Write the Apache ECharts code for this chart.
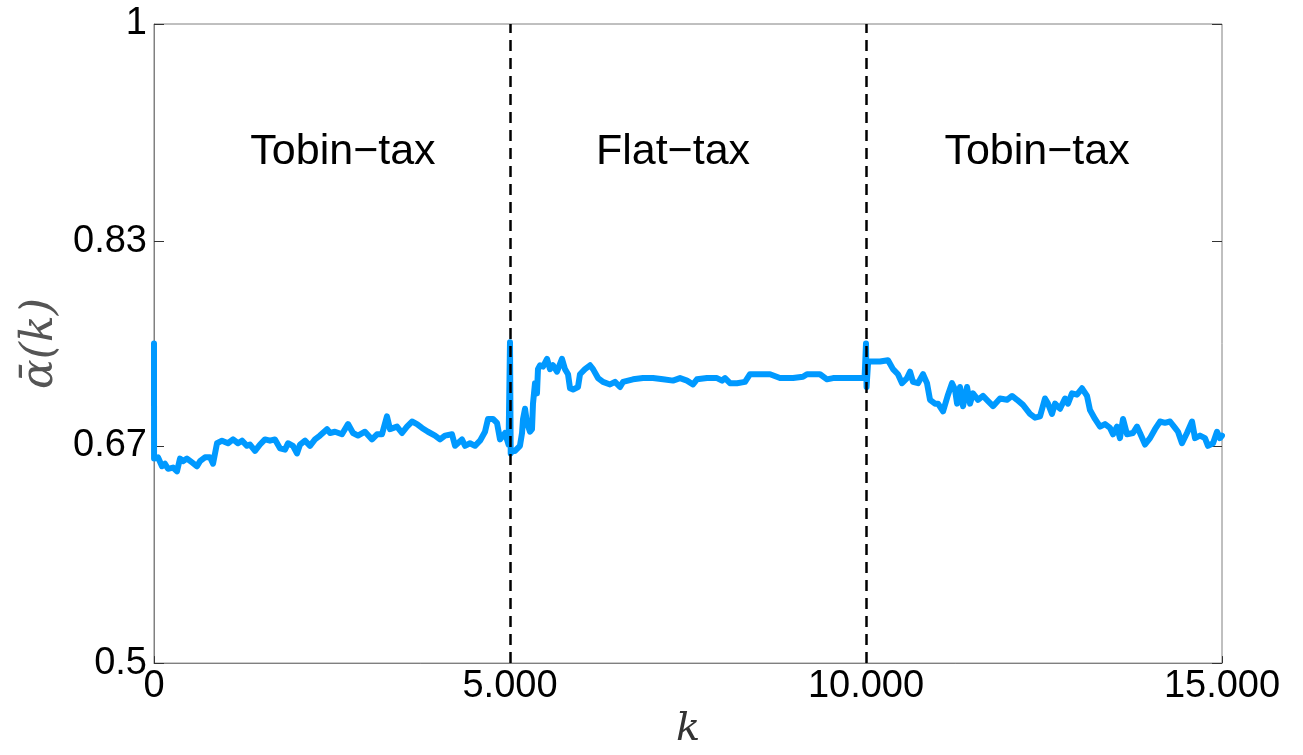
<!DOCTYPE html>
<html>
<head>
<meta charset="utf-8">
<script src="https://cdn.jsdelivr.net/npm/echarts@6/dist/echarts.min.js"></script>
<style>html,body{margin:0;padding:0;background:#fff;}#c{width:1303px;height:755px;}</style>
</head>
<body>
<div id="c"></div>
<script>
// ---- data ----
const kValues = [0, 1, 56, 112, 154, 197, 267, 323, 365, 407, 463, 534, 604, 646, 716, 787, 829, 885, 955, 1039, 1110, 1180, 1236, 1306, 1348, 1419, 1489, 1559, 1629, 1699, 1770, 1840, 1882, 1952, 2008, 2051, 2121, 2191, 2261, 2331, 2430, 2472, 2542, 2640, 2725, 2795, 2865, 2963, 3062, 3132, 3202, 3272, 3315, 3413, 3483, 3553, 3624, 3694, 3764, 3848, 3947, 4017, 4087, 4185, 4228, 4326, 4368, 4438, 4508, 4579, 4649, 4691, 4761, 4817, 4860, 4930, 4980, 5000, 5010, 5028, 5070, 5140, 5169, 5183, 5211, 5239, 5281, 5309, 5323, 5351, 5379, 5393, 5421, 5464, 5520, 5562, 5604, 5660, 5730, 5772, 5815, 5843, 5885, 5955, 5983, 6053, 6124, 6166, 6236, 6306, 6405, 6475, 6545, 6587, 6728, 6868, 7008, 7149, 7289, 7388, 7486, 7570, 7626, 7767, 7907, 7978, 8020, 8090, 8188, 8301, 8371, 8511, 8652, 8792, 8975, 9115, 9171, 9354, 9452, 9537, 9677, 9817, 9980, 10000, 10008, 10030, 10197, 10309, 10379, 10449, 10506, 10576, 10618, 10660, 10730, 10801, 10857, 10899, 10969, 11011, 11082, 11152, 11208, 11250, 11279, 11320, 11363, 11419, 11461, 11503, 11573, 11643, 11714, 11784, 11882, 11980, 12051, 12121, 12205, 12303, 12374, 12444, 12514, 12556, 12612, 12655, 12725, 12795, 12837, 12893, 12963, 13034, 13104, 13146, 13216, 13287, 13357, 13427, 13469, 13525, 13567, 13610, 13666, 13750, 13806, 13848, 13919, 13989, 14059, 14129, 14199, 14270, 14340, 14382, 14438, 14508, 14579, 14621, 14691, 14761, 14803, 14874, 14930, 14972, 15000];
const alphaValues = [0.750, 0.660, 0.661, 0.654, 0.656, 0.652, 0.653, 0.650, 0.660, 0.658, 0.660, 0.657, 0.654, 0.658, 0.661, 0.661, 0.656, 0.672, 0.674, 0.672, 0.675, 0.672, 0.674, 0.670, 0.671, 0.666, 0.671, 0.675, 0.674, 0.675, 0.668, 0.667, 0.672, 0.670, 0.664, 0.671, 0.674, 0.670, 0.675, 0.678, 0.683, 0.680, 0.681, 0.679, 0.687, 0.680, 0.678, 0.681, 0.675, 0.679, 0.679, 0.693, 0.683, 0.685, 0.680, 0.685, 0.689, 0.687, 0.684, 0.681, 0.678, 0.675, 0.678, 0.679, 0.670, 0.675, 0.670, 0.672, 0.670, 0.674, 0.681, 0.691, 0.691, 0.688, 0.675, 0.680, 0.671, 0.751, 0.664, 0.666, 0.666, 0.670, 0.680, 0.691, 0.699, 0.688, 0.681, 0.683, 0.703, 0.719, 0.711, 0.730, 0.733, 0.732, 0.738, 0.730, 0.733, 0.728, 0.738, 0.730, 0.726, 0.715, 0.714, 0.716, 0.726, 0.730, 0.733, 0.730, 0.723, 0.720, 0.718, 0.720, 0.716, 0.720, 0.722, 0.723, 0.723, 0.722, 0.721, 0.723, 0.721, 0.718, 0.722, 0.723, 0.723, 0.721, 0.723, 0.719, 0.719, 0.720, 0.726, 0.726, 0.726, 0.723, 0.723, 0.724, 0.726, 0.726, 0.722, 0.723, 0.723, 0.723, 0.723, 0.750, 0.716, 0.736, 0.736, 0.737, 0.730, 0.726, 0.719, 0.723, 0.728, 0.720, 0.719, 0.726, 0.719, 0.706, 0.703, 0.703, 0.697, 0.710, 0.719, 0.714, 0.703, 0.716, 0.701, 0.716, 0.703, 0.711, 0.706, 0.709, 0.705, 0.701, 0.707, 0.706, 0.709, 0.706, 0.702, 0.695, 0.692, 0.693, 0.707, 0.703, 0.695, 0.703, 0.699, 0.707, 0.703, 0.711, 0.710, 0.715, 0.709, 0.698, 0.691, 0.685, 0.687, 0.684, 0.679, 0.685, 0.676, 0.691, 0.679, 0.680, 0.685, 0.680, 0.671, 0.676, 0.683, 0.689, 0.688, 0.689, 0.684, 0.681, 0.672, 0.680, 0.689, 0.676, 0.678, 0.676, 0.670, 0.672, 0.681, 0.676, 0.678];
const yTicks = [0.5, 0.67, 0.83, 1];
const yTickLabels = ['0.5', '0.67', '0.83', '1'];
const xTicks = [0, 5000, 10000, 15000];
const regimeBreaks = [5000, 10000];
const regimeLabels = ['Tobin\u2212tax', 'Flat\u2212tax', 'Tobin\u2212tax'];
const regimeLabelK = [2654, 7289, 12402];
const regimeLabelY = 0.9;

const lineData = kValues.map((k, i) => [k, alphaValues[i]]);
const fmtK = v => v === 0 ? '0' : String(v).replace(/\B(?=(\d{3})+(?!\d))/g, '.');

const chart = echarts.init(document.getElementById('c'), null, {renderer: 'canvas'});
const font = 'Liberation Sans, Arial, Helvetica, sans-serif';
chart.setOption({
  animation: false,
  backgroundColor: '#fff',
  grid: {left: 154, right: 81, top: 24, bottom: 86, show: true, borderColor: '#808080', borderWidth: 1, backgroundColor: 'transparent'},
  xAxis: {
    type: 'value', min: 0, max: 15000, interval: 5000,
    name: 'k', nameLocation: 'middle', nameGap: 30,
    nameTextStyle: {fontFamily: 'DejaVu Serif, serif', fontStyle: 'italic', fontSize: 40, color: '#333'},
    axisLine: {show: true, lineStyle: {color: '#808080', width: 1}},
    axisTick: {show: true, inside: true, length: 7, lineStyle: {color: '#333'}},
    splitLine: {show: false},
    axisLabel: {fontFamily: font, fontSize: 38, color: '#000', margin: 4, formatter: fmtK,
      customValues: xTicks}
  },
  yAxis: [{
    type: 'value', min: 0.5, max: 1,
    name: '\u03b1\u0304(k)', nameLocation: 'middle', nameGap: 88, nameRotate: 90,
    nameTextStyle: {fontFamily: 'DejaVu Serif, serif', fontStyle: 'italic', fontSize: 44, color: '#555'},
    axisLine: {show: true, lineStyle: {color: '#808080', width: 1}},
    axisTick: {show: true, inside: true, length: 10, lineStyle: {color: '#333'}, customValues: yTicks},
    splitLine: {show: false},
    axisLabel: {fontFamily: font, fontSize: 38, color: '#000', margin: 7, customValues: yTicks,
      formatter: v => yTickLabels[yTicks.findIndex(t => Math.abs(t - v) < 1e-6)] ?? ''}
  }, {
    type: 'value', min: 0.5, max: 1, position: 'right',
    axisLine: {show: false},
    axisTick: {show: true, inside: true, length: 10, lineStyle: {color: '#333'}, customValues: yTicks},
    axisLabel: {show: false}, splitLine: {show: false}
  }],
  series: [{
    type: 'line', data: lineData, showSymbol: false, symbol: 'none',
    lineStyle: {color: '#0099ff', width: 6, join: 'round', cap: 'round'},
    z: 3,
    markLine: {
      silent: true, symbol: 'none', z: 5,
      lineStyle: {color: '#000', type: [11, 7], width: 2.5},
      label: {show: false},
      data: regimeBreaks.map(b => ({xAxis: b}))
    }
  }, {
    type: 'scatter', symbolSize: 0, silent: true,
    itemStyle: {opacity: 1},
    data: regimeLabelK.map((k, i) => ({value: [k, regimeLabelY], name: regimeLabels[i]})),
    label: {show: true, position: 'inside', formatter: p => p.name,
      fontFamily: font, fontSize: 43, color: '#000', textBorderWidth: 0, opacity: 1}
  }]
});
</script>
</body>
</html>
